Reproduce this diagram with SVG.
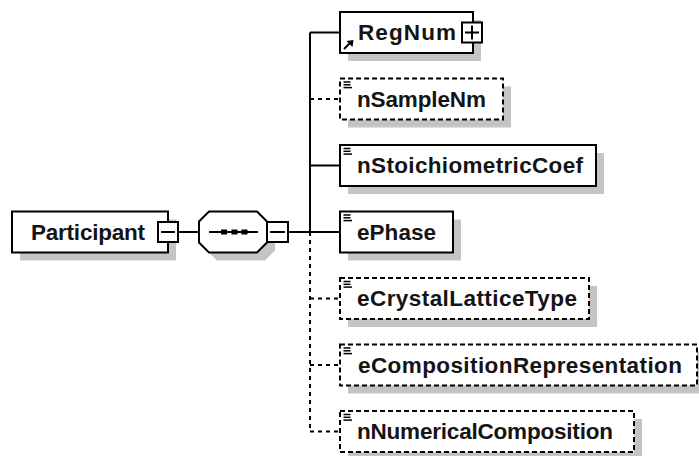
<svg xmlns="http://www.w3.org/2000/svg" width="699" height="456" viewBox="0 0 699 456">
  <style>
    .bg { fill: #ffffff; }
    .shadow { fill: #c4c4c4; stroke: none; }
    .box { fill: #ffffff; stroke: #000000; stroke-width: 2; }
    .dbox { fill: #ffffff; stroke: #000000; stroke-width: 2; stroke-dasharray: 5 3; }
    .conn { fill: none; stroke: #000000; stroke-width: 2; }
    .dconn { fill: none; stroke: #000000; stroke-width: 2; stroke-dasharray: 4 4; }
    .pm { fill: #ffffff; stroke: #000000; stroke-width: 2; }
    .pmline { stroke: #000000; stroke-width: 2; }
    .icon { stroke: #000000; stroke-width: 1.5; }
    .label { font-family: "Liberation Sans", Arial, sans-serif; font-weight: bold; font-size: 22.5px; fill: #141414; }
  </style>
  <defs>
    <g id="simpleIcon">
      <line class="icon" x1="343.5" y1="0" x2="350.5" y2="0"/>
      <line class="icon" x1="343.5" y1="2.8" x2="350.5" y2="2.8"/>
      <line class="icon" x1="343.5" y1="5.6" x2="352" y2="5.6"/>
    </g>
  </defs>
  <rect class="bg" x="0" y="0" width="699" height="456"/>

  <g id="connectors">
    <line class="conn" x1="178" y1="232" x2="199" y2="232"/>
    <line class="conn" x1="288" y1="232" x2="340" y2="232"/>
    <line class="conn" x1="310" y1="32.5" x2="310" y2="232"/>
    <line class="dconn" x1="310" y1="232" x2="310" y2="431.5"/>
    <line class="conn" x1="310" y1="32.5" x2="340" y2="32.5"/>
    <line class="dconn" x1="310" y1="99" x2="340" y2="99"/>
    <line class="conn" x1="310" y1="165.5" x2="340" y2="165.5"/>
    <line class="dconn" x1="310" y1="298.5" x2="340" y2="298.5"/>
    <line class="dconn" x1="310" y1="365" x2="340" y2="365"/>
    <line class="dconn" x1="310" y1="431.5" x2="340" y2="431.5"/>
  </g>

  <g id="node-Participant">
    <rect class="shadow" x="20" y="219.5" width="156" height="41"/>
    <rect class="box" x="12" y="211.5" width="156" height="41"/>
    <text class="label" x="31" y="239.5" textLength="114" lengthAdjust="spacing">Participant</text>
    <rect class="pm" x="158" y="222" width="20" height="20"/>
    <line class="pmline" x1="161" y1="232" x2="175" y2="232"/>
  </g>

  <g id="node-sequence">
    <polygon class="shadow" points="217,219.5 265,219.5 275,229.5 275,250.5 265,260.5 217,260.5 207,250.5 207,229.5"/>
    <polygon class="box" points="209,211.5 257,211.5 267,221.5 267,242.5 257,252.5 209,252.5 199,242.5 199,221.5"/>
    <line class="pmline" x1="209" y1="232" x2="258" y2="232"/>
    <rect x="221" y="229.5" width="6" height="5" fill="#000"/>
    <rect x="231.5" y="229.5" width="6" height="5" fill="#000"/>
    <rect x="241.5" y="229.5" width="6" height="5" fill="#000"/>
    <rect class="pm" x="267" y="222" width="21" height="20"/>
    <line class="pmline" x1="270" y1="232" x2="285" y2="232"/>
  </g>

  <g id="node-RegNum">
    <rect class="shadow" x="348" y="20" width="133" height="41"/>
    <rect class="box" x="340" y="12" width="133" height="41"/>
    <line class="pmline" x1="344" y1="49" x2="350" y2="43"/>
    <polygon points="346.5,41 353.5,40 352.5,47" fill="#000"/>
    <text class="label" x="358" y="40" textLength="98" lengthAdjust="spacing">RegNum</text>
    <rect class="pm" x="462" y="22.5" width="20" height="20"/>
    <line class="pmline" x1="465" y1="32.5" x2="479" y2="32.5"/>
    <line class="pmline" x1="472" y1="25.5" x2="472" y2="39.5"/>
  </g>

  <g id="node-nSampleNm">
    <rect class="shadow" x="348" y="86.5" width="163" height="41"/>
    <rect class="dbox" x="340" y="78.5" width="163" height="41"/>
    <use href="#simpleIcon" y="82"/>
    <text class="label" x="357" y="106.5" textLength="129" lengthAdjust="spacing">nSampleNm</text>
  </g>

  <g id="node-nStoichiometricCoef">
    <rect class="shadow" x="348" y="153" width="256" height="41"/>
    <rect class="box" x="340" y="145" width="256" height="41"/>
    <use href="#simpleIcon" y="148.5"/>
    <text class="label" x="357" y="173" textLength="226" lengthAdjust="spacing">nStoichiometricCoef</text>
  </g>

  <g id="node-ePhase">
    <rect class="shadow" x="348" y="219.5" width="113" height="41"/>
    <rect class="box" x="340" y="211.5" width="113" height="41"/>
    <use href="#simpleIcon" y="215"/>
    <text class="label" x="357" y="239.5" textLength="79" lengthAdjust="spacing">ePhase</text>
  </g>

  <g id="node-eCrystalLatticeType">
    <rect class="shadow" x="348" y="286" width="249" height="41"/>
    <rect class="dbox" x="340" y="278" width="249" height="41"/>
    <use href="#simpleIcon" y="281.5"/>
    <text class="label" x="357" y="306" textLength="220" lengthAdjust="spacing">eCrystalLatticeType</text>
  </g>

  <g id="node-eCompositionRepresentation">
    <rect class="shadow" x="348" y="352.5" width="357" height="41"/>
    <rect class="dbox" x="340" y="344.5" width="357" height="41"/>
    <use href="#simpleIcon" y="348"/>
    <text class="label" x="358" y="372.5" textLength="324" lengthAdjust="spacing">eCompositionRepresentation</text>
  </g>

  <g id="node-nNumericalComposition">
    <rect class="shadow" x="348" y="419" width="294" height="41"/>
    <rect class="dbox" x="340" y="411" width="294" height="41"/>
    <use href="#simpleIcon" y="414.5"/>
    <text class="label" x="357" y="439" textLength="256" lengthAdjust="spacing">nNumericalComposition</text>
  </g>
</svg>
